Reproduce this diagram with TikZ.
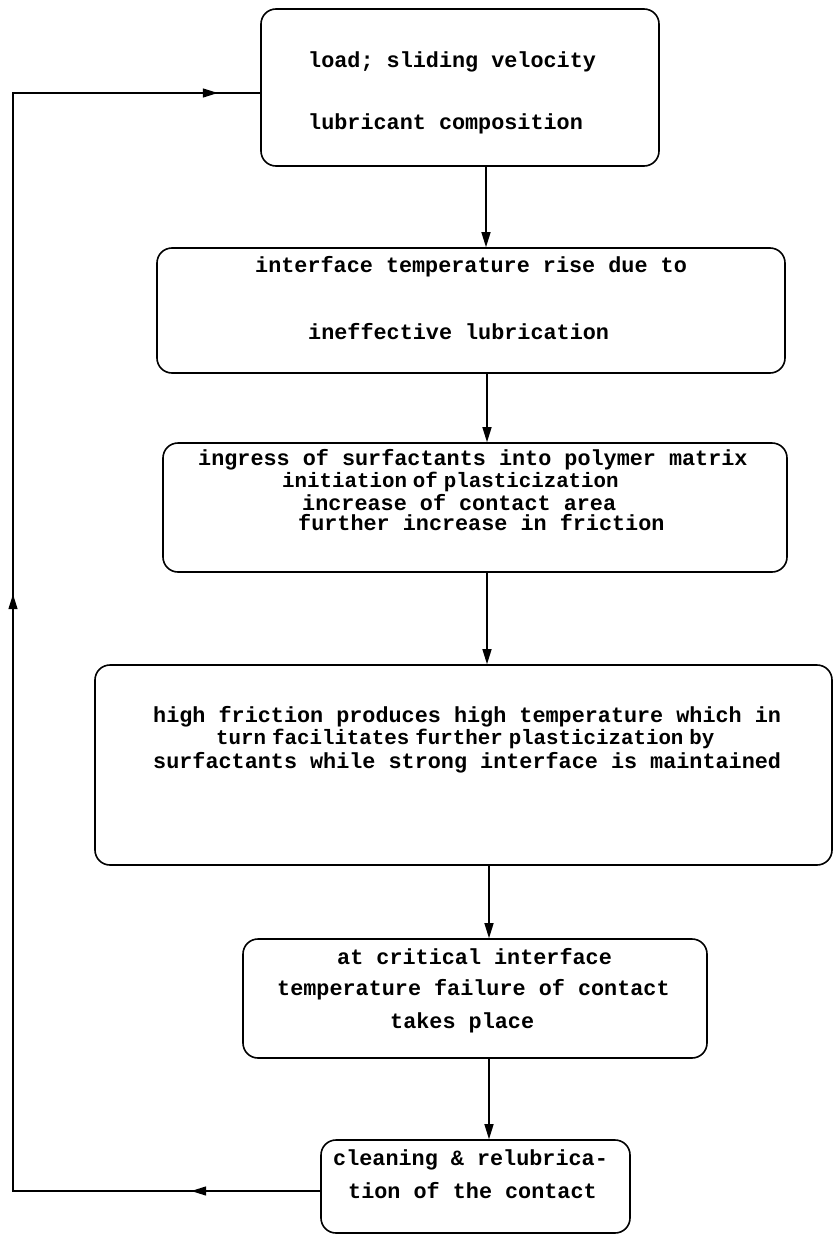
\documentclass[tikz,border=0pt]{standalone}
\usepackage{fontspec}
\setmonofont{Liberation Mono}
\usetikzlibrary{arrows.meta,decorations.markings}
\newcommand{\nsp}{\hspace*{6pt}}
\begin{document}
\begin{tikzpicture}[x=1pt,y=-1pt,
  box/.style={draw, line width=1.6pt, rounded corners=15pt, inner sep=0pt},
  txt/.style={font=\fontsize{21.8}{24}\selectfont\ttfamily\bfseries, inner sep=0pt, anchor=west},
  tighttxt/.style={font=\fontsize{20.8}{24}\selectfont\ttfamily\bfseries, inner sep=0pt, anchor=west},
  arr/.style={line width=1.4pt, -{Triangle[length=15pt,width=9pt]}},
  fb/.style={line width=1.4pt},
  tipmark/.style={postaction={decorate}, decoration={markings,
     mark=at position 129pt with {\arrow{Triangle[length=15pt,width=9pt]}},
     mark=at position 904pt with {\arrow{Triangle[length=15pt,width=9pt]}},
     mark=at position 1610pt with {\arrow{Triangle[length=15pt,width=9pt]}}}}
]
\useasboundingbox (0,0) rectangle (833,1234);
% boxes
\node[box, minimum width=398pt, minimum height=157pt] (b1) at (460,87.5) {};
\node[box, minimum width=628pt, minimum height=125pt] (b2) at (471,310.5) {};
\node[box, minimum width=624pt, minimum height=129pt] (b3) at (475,507.5) {};
\node[box, minimum width=737pt, minimum height=200pt] (b4) at (463.5,765) {};
\node[box, minimum width=464pt, minimum height=119pt] (b5) at (475,998.5) {};
\node[box, minimum width=309pt, minimum height=93pt] (b6) at (475.5,1186.5) {};
% texts
\node[txt] (t1a) at (308,62) {load; sliding velocity};
\node[txt] (t1b) at (308,124) {lubricant composition};
\node[txt] (t2a) at (255,267) {interface temperature rise due to};
\node[txt] (t2b) at (308,332) {ineffective lubrication};
\node[txt] (t3a) at (198,460) {ingress of surfactants into polymer matrix};
\node[tighttxt] (t3b) at (282,482) {initiation\nsp of\nsp plasticization};
\node[txt] (t3c) at (302,503) {increase of contact area};
\node[txt] (t3d) at (298,523) {further increase in friction};
\node[txt] (t4a) at (153,717) {high friction produces high temperature which in};
\node[tighttxt] (t4b) at (216,739) {turn\nsp facilitates\nsp further\nsp plasticization\nsp by};
\node[txt] (t4c) at (153,763) {surfactants while strong interface is maintained};
\node[txt] (t5a) at (337,957) {at critical interface};
\node[txt] (t5b) at (277,990) {temperature failure of contact};
\node[txt] (t5c) at (390,1023) {takes place};
\node[txt] (t6a) at (333,1160) {cleaning \& relubrica-};
\node[txt] (t6b) at (348,1191) {tion of the contact};
% vertical connectors
\coordinate (x1) at (486,0);
\coordinate (x2) at (487,0);
\coordinate (x3) at (487,0);
\coordinate (x4) at (489,0);
\coordinate (x5) at (489,0);
\draw[arr] (x1 |- b1.south) -- (x1 |- b2.north);
\draw[arr] (x2 |- b2.south) -- (x2 |- b3.north);
\draw[arr] (x3 |- b3.south) -- (x3 |- b4.north);
\draw[arr] (x4 |- b4.south) -- (x4 |- b5.north);
\draw[arr] (x5 |- b5.south) -- (x5 |- b6.north);
% feedback loop
\coordinate (fbB) at (13,1191);
\coordinate (fbT) at (13,93);
\draw[fb, tipmark] (fbB -| b6.west) -- (fbB) -- (fbT) -- (fbT -| b1.west);
\end{tikzpicture}
\end{document}
